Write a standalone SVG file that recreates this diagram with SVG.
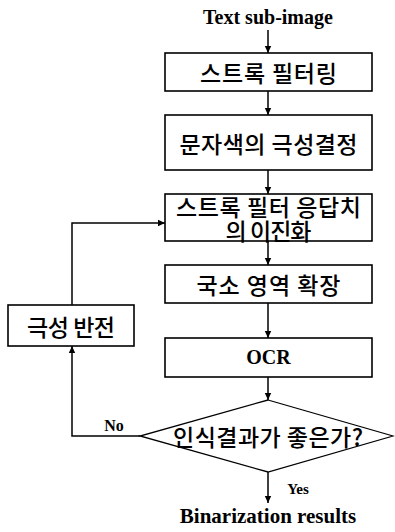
<svg xmlns="http://www.w3.org/2000/svg" width="395" height="532" viewBox="0 0 395 532">
<style>
.box{fill:#fff;stroke:#000;stroke-width:1.6}
.kr{font-family:"Noto Sans CJK KR","Noto Sans",sans-serif;font-size:23px;font-weight:500;fill:#000;text-anchor:middle;dominant-baseline:central}
.en{font-family:"Liberation Serif","DejaVu Serif",serif;font-weight:bold;fill:#000}
.ln{fill:none;stroke:#000;stroke-width:1.5}
</style>
<defs>
<marker id="ah" markerWidth="8" markerHeight="8" refX="7" refY="4" orient="auto" markerUnits="userSpaceOnUse">
<path d="M0,0.8 L7,4 L0,7.2 Z" fill="#000"/>
</marker>
</defs>
<rect width="395" height="532" fill="#fff"/>
<g id="connectors">
<path class="ln" d="M268,30 V53" marker-end="url(#ah)"/>
<path class="ln" d="M268,91 V115" marker-end="url(#ah)"/>
<path class="ln" d="M268,170 V194" marker-end="url(#ah)"/>
<path class="ln" d="M268,241 V265" marker-end="url(#ah)"/>
<path class="ln" d="M268,303 V338" marker-end="url(#ah)"/>
<path class="ln" d="M268,377 V400" marker-end="url(#ah)"/>
<path class="ln" d="M268,472 V503" marker-end="url(#ah)"/>
<path class="ln" d="M140,436 H72 V346" marker-end="url(#ah)"/>
<path class="ln" d="M72,305 V223 H165" marker-end="url(#ah)"/>
<text class="en" x="114" y="431" font-size="16" text-anchor="middle">No</text>
<text class="en" x="298" y="494" font-size="15" text-anchor="middle">Yes</text>
</g>
<g id="start">
<text class="en" x="268" y="24" font-size="20" text-anchor="middle">Text sub-image</text>
</g>
<g id="n1">
<rect class="box" x="165" y="53" width="207" height="38"/>
<text class="kr" x="268.5" y="72" textLength="137">스트록 필터링</text>
</g>
<g id="n2">
<rect class="box" x="165" y="115" width="207" height="55"/>
<text class="kr" x="268.5" y="142.5" font-size="24" textLength="178">문자색의 극성결정</text>
</g>
<g id="n3">
<rect class="box" x="165" y="194" width="207" height="47"/>
<text class="kr" font-size="20"><tspan x="268.5" y="205.5" textLength="185">스트록 필터 응답치</tspan><tspan x="268.5" y="229.5" textLength="86">의 이진화</tspan></text>
</g>
<g id="n4">
<rect class="box" x="165" y="265" width="207" height="38"/>
<text class="kr" x="268.5" y="284" font-size="22" textLength="144">국소 영역 확장</text>
</g>
<g id="n5">
<rect class="box" x="165" y="338" width="207" height="39"/>
<text class="en" x="268.5" y="364" font-size="20" text-anchor="middle">OCR</text>
</g>
<g id="decision">
<polygon class="box" points="268,400 393,436 268,472 140,436" style="stroke-width:1.3"/>
<text class="kr" x="268" y="436" font-size="24" textLength="190">인식결과가 좋은가?</text>
</g>
<g id="invert">
<rect class="box" x="8" y="305" width="126" height="41"/>
<text class="kr" x="71" y="325.5" font-size="22" textLength="88">극성 반전</text>
</g>
<g id="end">
<text class="en" x="268" y="523" font-size="21" text-anchor="middle">Binarization results</text>
</g>
</svg>
